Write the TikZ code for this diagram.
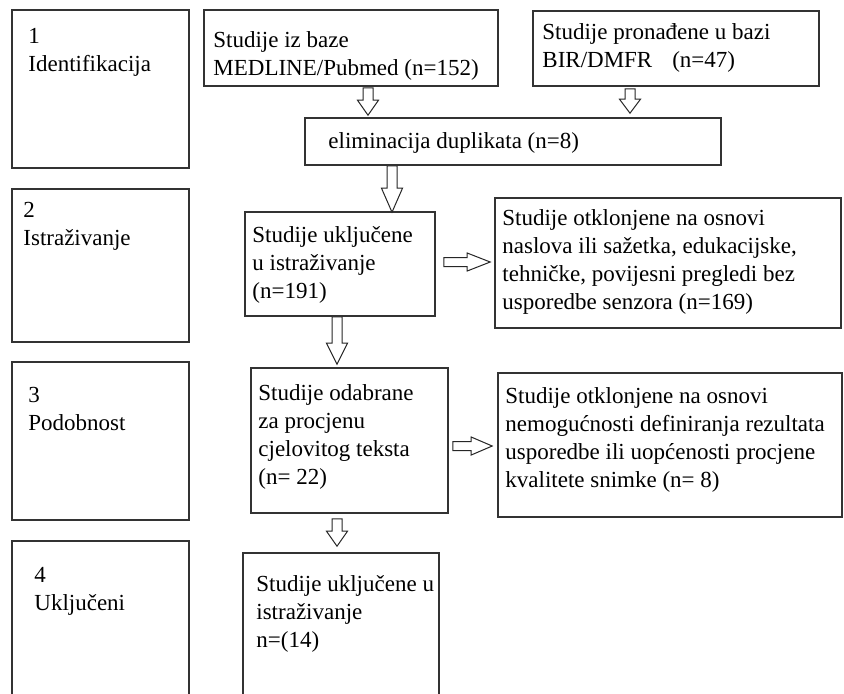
\documentclass[tikz,border=0pt]{standalone}
\usepackage{fontspec}
\setmainfont{Liberation Serif}
\usetikzlibrary{calc,fit}
\newcommand\ml[1]{\begin{tabular}[t]{@{}l@{}}#1\end{tabular}}
\newcommand\blkdown[3]{%
  \draw[blk] let \p1=#1, \p2=#2 in
   (\x2-2.5pt,\y1) -- (\x2-2.5pt,\y2+#3) -- (\x2-5.25pt,\y2+#3) -- (\x2,\y2)
   -- (\x2+5.25pt,\y2+#3) -- (\x2+2.5pt,\y2+#3) -- (\x2+2.5pt,\y1) -- cycle;}
\newcommand\blkright[3]{%
  \draw[blk] let \p1=#1, \p2=#2 in
   (\x1,\y2+2.25pt) -- (\x2-#3,\y2+2.25pt) -- (\x2-#3,\y2+4.5pt) -- (\x2,\y2)
   -- (\x2-#3,\y2-4.5pt) -- (\x2-#3,\y2-2.25pt) -- (\x1,\y2-2.25pt) -- cycle;}
\begin{document}
\begin{tikzpicture}[x=0.5pt,y=-0.5pt,
  box/.style={draw=black!80,line width=0.8pt,inner sep=0pt},
  blk/.style={draw=black!85,line width=0.5pt,fill=white,line join=miter},
  txt/.style={anchor=base west,inner sep=0pt,font=\fontsize{11.5}{14}\selectfont}]
\useasboundingbox (0,0) rectangle (844,693);
\clip (0,0) rectangle (844,693);
% boxes
\node[box,fit={(12,10) (189,168)}] (s1) {};
\node[box,fit={(12,189) (189,342)}] (s2) {};
\node[box,fit={(12,362) (189,520)}] (s3) {};
\node[box,fit={(12,541) (189,700)}] (s4) {};
\node[box,fit={(204,10) (498,86)}] (med) {};
\node[box,fit={(533,11) (819,86)}] (bir) {};
\node[box,fit={(305,118) (721,165)}] (elim) {};
\node[box,fit={(245,212) (435,316)}] (b191) {};
\node[box,fit={(495,198) (841,328)}] (b169) {};
\node[box,fit={(251,368) (448,513)}] (b22) {};
\node[box,fit={(498,373) (842,517)}] (b8) {};
\node[box,fit={(243,553) (439,700)}] (b14) {};
% texts
\node[txt] (t1) at (28,43) {\ml{1\\Identifikacija}};
\node[txt] (tmed) at (213,47) {\ml{Studije iz baze\\MEDLINE/Pubmed (n=152)}};
\node[txt] (tbir) at (542,39) {\ml{Studije pronađene u bazi\\BIR/DMFR\hspace{10pt}(n=47)}};
\node[txt] (telim) at (328,148) {eliminacija duplikata (n=8)};
\node[txt] (t2) at (23,217) {\ml{2\\Istraživanje}};
\node[txt] (t191) at (252,242) {\ml{Studije uključene\\u istraživanje\\(n=191)}};
\node[txt] (t169) at (502,225) {\ml{Studije otklonjene na osnovi\\naslova ili sažetka, edukacijske,\\tehničke, povijesni pregledi bez\\usporedbe senzora (n=169)}};
\node[txt] (t3) at (28,402) {\ml{3\\Podobnost}};
\node[txt] (t22) at (258,400) {\ml{Studije odabrane\\za procjenu\\cjelovitog teksta\\(n= 22)}};
\node[txt] (t8) at (505,403) {\ml{Studije otklonjene na osnovi\\nemogućnosti definiranja rezultata\\usporedbe ili uopćenosti procjene\\kvalitete snimke (n= 8)}};
\node[txt] (t4) at (34,582) {\ml{4\\Uključeni}};
\node[txt] (t14) at (256,591) {\ml{Studije uključene u\\istraživanje\\n=(14)}};
% arrow positions
\coordinate (xa1) at (368,0);
\coordinate (xa2) at (630,0);
\coordinate (xa3) at (392,0);
\coordinate (xa5) at (337,0);
\coordinate (ya4) at (0,262);
\coordinate (ya6) at (0,446);
% arrows
\blkdown{($(med.south -| xa1)+(0,1)$)}{($(elim.north -| xa1)+(0,-2)$)}{7.5pt}
\blkdown{($(bir.south -| xa2)+(0,2)$)}{($(elim.north -| xa2)+(0,-4)$)}{7pt}
\blkdown{(elim.south -| xa3)}{($(b191.north -| xa3)+(0,1)$)}{12pt}
\blkright{($(b191.east |- ya4)+(8,0)$)}{($(b169.west |- ya4)+(-4,0)$)}{11.5pt}
\blkdown{(b191.south -| xa5)}{($(b22.north -| xa5)+(0,-3)$)}{10.5pt}
\blkright{($(b22.east |- ya6)+(4,0)$)}{($(b8.west |- ya6)+(-5,0)$)}{10.5pt}
\blkdown{($(b22.south -| xa5)+(0,5)$)}{($(b14.north -| xa5)+(0,-6)$)}{7.5pt}
\end{tikzpicture}
\end{document}
